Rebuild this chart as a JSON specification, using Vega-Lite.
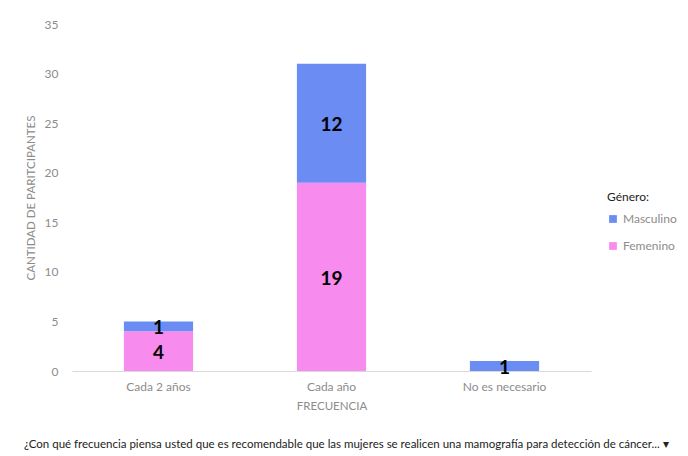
{
  "$schema": "https://vega.github.io/schema/vega-lite/v6.json",
  "width": 519,
  "height": 347,
  "autosize": {"type": "none"},
  "padding": {"left": 72, "top": 24, "right": 97, "bottom": 85},
  "background": "white",
  "config": {
    "view": {"stroke": null},
    "font": "Lato"
  },
  "title": {
    "text": "¿Con qué frecuencia piensa usted que es recomendable que las mujeres se realicen una mamografía para detección de cáncer...  ▾",
    "orient": "bottom",
    "anchor": "start",
    "frame": "group",
    "dx": -48,
    "offset": 27,
    "fontSize": 11.5,
    "fontWeight": "normal",
    "color": "#222222",
    "font": "Lato"
  },
  "data": {
    "values": [
      {"frecuencia": "Cada 2 años", "genero": "Femenino", "cantidad": 4},
      {"frecuencia": "Cada 2 años", "genero": "Masculino", "cantidad": 1},
      {"frecuencia": "Cada año", "genero": "Femenino", "cantidad": 19},
      {"frecuencia": "Cada año", "genero": "Masculino", "cantidad": 12},
      {"frecuencia": "No es necesario", "genero": "Femenino", "cantidad": 0},
      {"frecuencia": "No es necesario", "genero": "Masculino", "cantidad": 1}
    ]
  },
  "transform": [
    {"stack": "cantidad", "groupby": ["frecuencia"], "sort": [{"field": "genero", "order": "ascending"}], "as": ["y0", "y1"]}
  ],
  "layer": [
    {
      "mark": {"type": "bar"},
      "encoding": {
        "x": {
          "field": "frecuencia", "type": "nominal", "sort": null,
          "scale": {"paddingInner": 0.6, "paddingOuter": 0.3},
          "axis": {
            "title": "FRECUENCIA", "labelAngle": 0, "ticks": false,
            "domainColor": "#d9d9d9", "labelColor": "#8c8c8c", "labelFontSize": 12,
            "labelPadding": 10, "titleColor": "#8c8c8c", "titleFontSize": 11.5,
            "titleFontWeight": "normal", "titlePadding": 8
          }
        },
        "y": {
          "field": "y1", "type": "quantitative",
          "scale": {"domain": [0, 35]},
          "axis": {
            "title": "CANTIDAD DE PARITCIPANTES", "values": [0, 5, 10, 15, 20, 25, 30, 35],
            "grid": false, "domain": false, "ticks": false,
            "labelColor": "#8c8c8c", "labelFontSize": 12, "labelPadding": 14,
            "titleColor": "#8c8c8c", "titleFontSize": 11.5, "titleFontWeight": "normal",
            "titlePadding": 8
          }
        },
        "y2": {"field": "y0"},
        "color": {
          "field": "genero", "type": "nominal",
          "scale": {"domain": ["Masculino", "Femenino"], "range": ["#6a8cf3", "#f78bee"]},
          "legend": {
            "title": "Género:", "orient": "none", "legendX": 535, "legendY": 168,
            "symbolType": "square", "symbolSize": 60, "labelColor": "#8c8c8c",
            "labelFontSize": 12, "titleColor": "#222222", "titleFontSize": 12,
            "titleFontWeight": "normal", "rowPadding": 15, "titlePadding": 9
          }
        }
      }
    },
    {
      "transform": [
        {"filter": "datum.cantidad > 0"},
        {"fold": ["y0", "y1"], "as": ["borde", "pos"]}
      ],
      "mark": {"type": "text", "fontSize": 19, "fontWeight": "bold", "color": "#000000", "baseline": "middle", "dy": 2},
      "encoding": {
        "x": {"field": "frecuencia", "type": "nominal", "sort": null},
        "y": {"aggregate": "mean", "field": "pos", "type": "quantitative"},
        "detail": {"field": "genero"},
        "text": {"aggregate": "max", "field": "cantidad", "type": "quantitative"}
      }
    }
  ]
}
